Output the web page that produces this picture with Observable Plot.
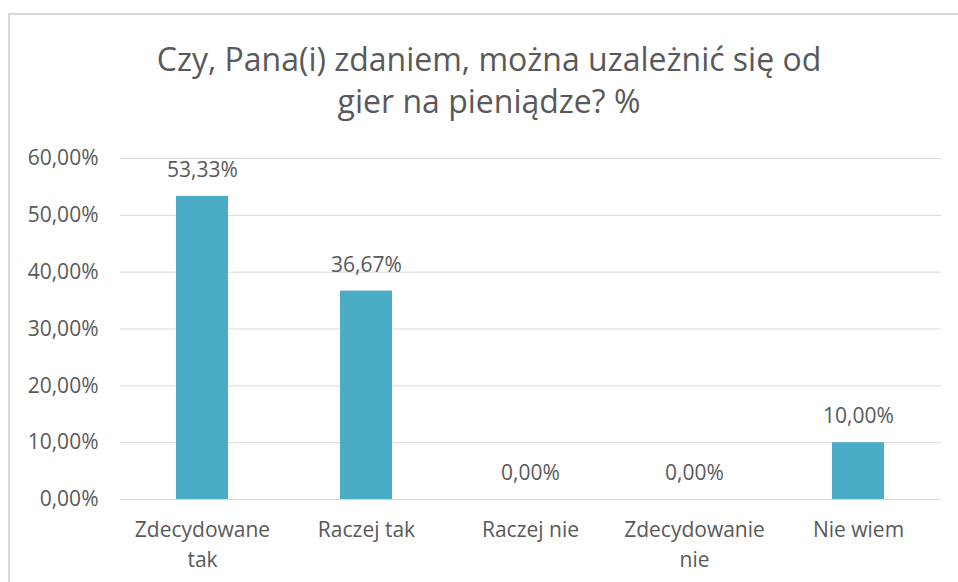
<!DOCTYPE html>
<html>
<head>
<meta charset="utf-8">
<script src="https://cdn.jsdelivr.net/npm/d3@7"></script>
<script src="https://cdn.jsdelivr.net/npm/@observablehq/plot@0.6"></script>
<style>
  html, body { margin: 0; padding: 0; background: #fff; overflow: hidden; }
  body { width: 958px; height: 582px; position: relative; font-family: "Open Sans", sans-serif; }
  #frame { position: absolute; left: 8px; top: 13px; width: 1000px; height: 700px; border: 2px solid #d9d9d9; box-sizing: border-box; }
  #title { position: absolute; left: 0; top: 38px; width: 978px; text-align: center; font-size: 32px; line-height: 42px; color: #595959; }
  #chart { position: absolute; left: 0; top: 0; }
</style>
</head>
<body>
<div id="frame"></div>
<div id="title">Czy, Pana(i) zdaniem, można uzależnić się od<br>gier na pieniądze? %</div>
<div id="chart"></div>
<script>
const categories = ["Zdecydowane tak", "Raczej tak", "Raczej nie", "Zdecydowanie nie", "Nie wiem"];
const categoryLabels = ["Zdecydowane\ntak", "Raczej tak", "Raczej nie", "Zdecydowanie\nnie", "Nie wiem"];
const values = [53.33, 36.67, 0, 0, 10];
const yTicks = [0, 10, 20, 30, 40, 50, 60];

const data = categories.map((c, i) => ({category: c, value: values[i]}));
const fmt = d => d.toFixed(2).replace(".", ",") + "%";
const labelOf = new Map(categories.map((c, i) => [c, categoryLabels[i]]));

const chart = Plot.plot({
  width: 958,
  height: 582,
  marginLeft: 120,
  marginRight: 17,
  marginTop: 158,
  marginBottom: 83,
  style: {background: "transparent", fontFamily: "'Open Sans', sans-serif", color: "#595959"},
  x: {domain: categories, paddingInner: 0.68, paddingOuter: 0.34, label: null},
  y: {domain: [0, 60], label: null},
  marks: [
    Plot.ruleY(yTicks, {stroke: "#d9d9d9", strokeWidth: 1}),
    Plot.barY(data, {x: "category", y: "value", fill: "#4bacc6"}),
    Plot.text(data, {x: "category", y: "value", text: d => fmt(d.value), dy: -26, fontSize: 21, fill: "#595959"}),
    Plot.axisY(yTicks, {tickSize: 0, tickPadding: 22, tickFormat: fmt, fontSize: 21, fill: "#595959", label: null}),
    Plot.axisX({tickSize: 0, tickPadding: 16, tickFormat: d => labelOf.get(d), fontSize: 21, fill: "#595959", lineHeight: 1.43, label: null})
  ]
});
document.getElementById("chart").appendChild(chart);
</script>
</body>
</html>
